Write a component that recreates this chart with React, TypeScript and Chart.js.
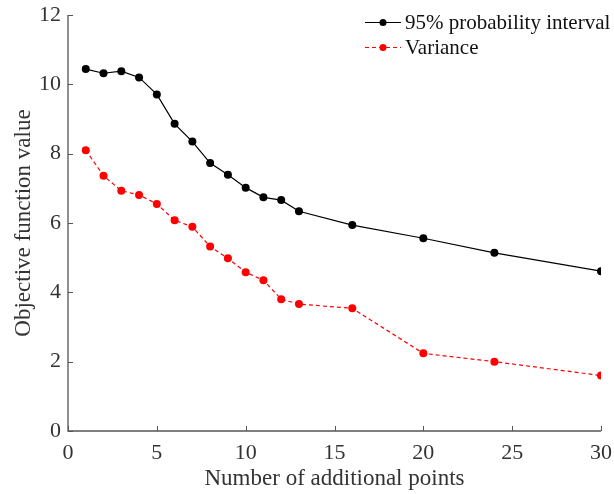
import React, { useEffect, useRef } from "react";
import { Chart, registerables } from "chart.js";

Chart.register(...registerables);

const xValues = [1, 2, 3, 4, 5, 6, 7, 8, 9, 10, 11, 12, 13, 16, 20, 24, 30];
const probInterval = [10.44, 10.32, 10.38, 10.2, 9.71, 8.86, 8.35, 7.73, 7.39, 7.02, 6.74, 6.66, 6.34, 5.94, 5.56, 5.14, 4.61];
const variance = [8.1, 7.36, 6.93, 6.81, 6.55, 6.08, 5.89, 5.32, 4.98, 4.58, 4.35, 3.8, 3.66, 3.54, 2.24, 2.0, 1.6];
const seriesLabels = ["95% probability interval", "Variance"];
const xTitle = "Number of additional points";
const yTitle = "Objective function value";

const FONT = "'Liberation Serif', 'Times New Roman', serif";
const AXIS_COLOR = "#555555";
const TEXT_COLOR = "#333333";

const axesPlugin = {
  id: "customAxes",
  afterDraw(chart: any) {
    const { ctx, chartArea, scales } = chart;
    const xs = scales.x;
    const ys = scales.y;
    ctx.save();
    ctx.strokeStyle = AXIS_COLOR;
    ctx.lineWidth = 1.3;
    ctx.beginPath();
    ctx.moveTo(chartArea.left, chartArea.top);
    ctx.lineTo(chartArea.left, chartArea.bottom);
    ctx.lineTo(chartArea.right, chartArea.bottom);
    ctx.stroke();
    ctx.lineWidth = 1;
    ctx.beginPath();
    xs.ticks.forEach((t: any) => {
      const px = Math.round(xs.getPixelForValue(t.value)) + 0.5;
      ctx.moveTo(px, chartArea.bottom);
      ctx.lineTo(px, chartArea.bottom - 5);
    });
    ys.ticks.forEach((t: any) => {
      const py = Math.round(ys.getPixelForValue(t.value)) + 0.5;
      ctx.moveTo(chartArea.left, py);
      ctx.lineTo(chartArea.left + 5, py);
    });
    ctx.stroke();
    ctx.restore();
  },
};

const legendPlugin = {
  id: "customLegend",
  afterDraw(chart: any) {
    const { ctx } = chart;
    const x0 = 365;
    const x1 = 401;
    const rows = [22.5, 47.5];
    ctx.save();
    chart.data.datasets.forEach((ds: any, i: number) => {
      const y = rows[i];
      ctx.strokeStyle = ds.borderColor;
      ctx.lineWidth = ds.borderWidth;
      ctx.setLineDash(ds.borderDash || []);
      ctx.beginPath();
      ctx.moveTo(x0, y);
      ctx.lineTo(x1, y);
      ctx.stroke();
      ctx.setLineDash([]);
      ctx.fillStyle = ds.pointBackgroundColor;
      ctx.beginPath();
      ctx.arc((x0 + x1) / 2, y, 3.5, 0, Math.PI * 2);
      ctx.fill();
      ctx.fillStyle = "#111111";
      ctx.font = `21px ${FONT}`;
      ctx.textBaseline = "middle";
      ctx.textAlign = "left";
      ctx.fillText(ds.label, 405, y + 1);
    });
    ctx.restore();
  },
};

export default function App() {
  const canvasRef = useRef<HTMLCanvasElement>(null);

  useEffect(() => {
    if (!canvasRef.current) return;
    const chart = new Chart(canvasRef.current, {
      type: "line",
      data: {
        datasets: [
          {
            label: seriesLabels[0],
            data: xValues.map((x, i) => ({ x, y: probInterval[i] })),
            borderColor: "#000000",
            backgroundColor: "#000000",
            pointBackgroundColor: "#000000",
            pointBorderColor: "#000000",
            borderWidth: 1.2,
            pointRadius: 4,
            pointBorderWidth: 0,
            tension: 0,
          },
          {
            label: seriesLabels[1],
            data: xValues.map((x, i) => ({ x, y: variance[i] })),
            borderColor: "#ff0000",
            backgroundColor: "#ff0000",
            pointBackgroundColor: "#ff0000",
            pointBorderColor: "#ff0000",
            borderWidth: 1.2,
            borderDash: [4, 3],
            pointRadius: 4,
            pointBorderWidth: 0,
            tension: 0,
          },
        ],
      },
      options: {
        responsive: false,
        animation: false,
        layout: { padding: { top: 15, right: 13, left: 0, bottom: 0 } },
        plugins: {
          legend: { display: false },
          tooltip: { enabled: false },
        },
        scales: {
          x: {
            type: "linear",
            min: 0,
            max: 30,
            grid: { display: false },
            border: { display: false },
            ticks: {
              stepSize: 5,
              color: TEXT_COLOR,
              font: { family: FONT, size: 22 },
              padding: 1,
              maxRotation: 0,
            },
            title: {
              display: true,
              text: xTitle,
              color: TEXT_COLOR,
              font: { family: FONT, size: 23 },
              padding: { top: 0, bottom: 1 },
            },
            afterFit(scale: any) {
              scale.height = 63;
              scale.paddingLeft = 0;
              scale.paddingRight = 0;
            },
          },
          y: {
            min: 0,
            max: 12,
            grid: { display: false },
            border: { display: false },
            ticks: {
              stepSize: 2,
              color: TEXT_COLOR,
              font: { family: FONT, size: 22 },
              padding: -1,
            },
            title: {
              display: true,
              text: yTitle,
              color: TEXT_COLOR,
              font: { family: FONT, size: 23 },
              padding: { top: 10, bottom: 0 },
            },
            afterFit(scale: any) {
              scale.width = 68;
              scale.paddingTop = 0;
              scale.paddingBottom = 0;
            },
          },
        },
      },
      plugins: [axesPlugin, legendPlugin],
    });
    return () => chart.destroy();
  }, []);

  return (
    <div style={{ position: "absolute", left: 0, top: 0, width: 614, height: 494, background: "#ffffff" }}>
      <canvas ref={canvasRef} width={614} height={494} />
    </div>
  );
}
